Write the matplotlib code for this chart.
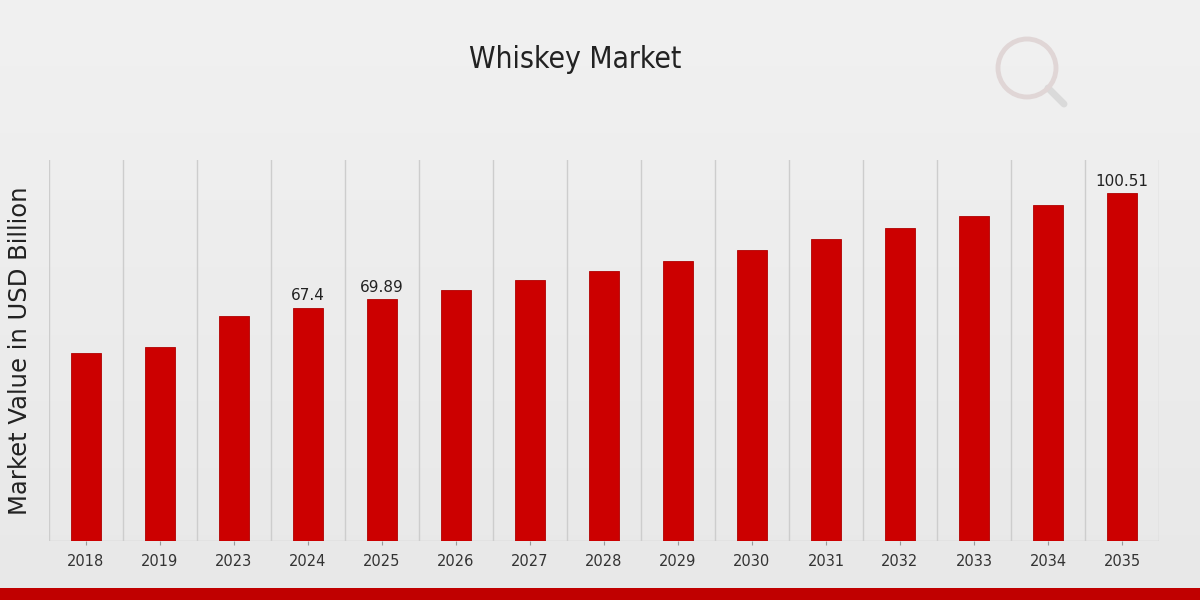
import matplotlib
matplotlib.use("Agg")
import matplotlib.pyplot as plt
import numpy as np
from matplotlib.patches import Rectangle, Ellipse
from matplotlib.lines import Line2D

years = ["2018", "2019", "2023", "2024", "2025", "2026", "2027", "2028",
         "2029", "2030", "2031", "2032", "2033", "2034", "2035"]
values = [54.3, 56.0, 65.0, 67.4, 69.89, 72.5, 75.4, 78.0, 80.9, 84.0,
          87.2, 90.4, 93.9, 97.1, 100.51]
labeled = {"2024": "67.4", "2025": "69.89", "2035": "100.51"}

fig = plt.figure(figsize=(12, 6), dpi=100)
fig.patch.set_facecolor("#ebebeb")

# subtle background gradient
bg = fig.add_axes([0, 0, 1, 1], zorder=-10)
grad = np.linspace(0.945, 0.91, 256).reshape(-1, 1)
bg.imshow(np.dstack([grad, grad, grad]), aspect="auto", extent=[0, 1, 0, 1])
bg.set_axis_off()

ax = fig.add_axes([49/1200, 1 - 541/600, 1110/1200, 381/600])
ax.set_facecolor("none")
x = np.arange(len(years))
ax.bar(x, values, width=0.4, color="#cc0000", edgecolor="#b00000", linewidth=0.6, zorder=3)
ax.set_xlim(-0.5, len(years) - 0.5)
ax.set_ylim(0, 110)
for b in np.arange(-0.5, len(years), 1.0):
    ax.axvline(b, color="#cdcdcd", linewidth=1.0, zorder=1)
ax.axhline(0, color="#cdcdcd", linewidth=1.0, zorder=1)
for xi, yr, v in zip(x, years, values):
    if yr in labeled:
        ax.text(xi, v + 1.2, labeled[yr], ha="center", va="bottom",
                fontsize=11, color="#222222", zorder=4)
ax.set_xticks(x)
ax.set_xticklabels(years, fontsize=10.5, color="#333333")
ax.set_yticks([])
ax.tick_params(axis="x", length=3, color="#999999", pad=6)
for s in ax.spines.values():
    s.set_visible(False)
ax.set_ylabel("Market Value in USD Billion", fontsize=17.5, color="#222222", labelpad=12)

fig.text(0.479, 0.9, "Whiskey Market", ha="center", va="center", fontsize=21.5,
         color="#222222", fontstretch="condensed")

# bottom red strip
fig.patches.append(Rectangle((0, 0), 1, 12/600, transform=fig.transFigure,
                             facecolor="#c00000", edgecolor="none", zorder=5))

# faint watermark logo
fig.patches.append(Ellipse((1027/1200, 1 - 68/600), 58/1200, 58/600, transform=fig.transFigure,
                           facecolor="none", edgecolor="#e0d6d6", linewidth=3.5, zorder=0))
fig.lines.append(Line2D([1048/1200, 1064/1200], [1 - 88/600, 1 - 104/600],
                        transform=fig.transFigure, color="#dadada", linewidth=5,
                        solid_capstyle="round", zorder=0))

fig.savefig("out.png", dpi=100, facecolor=fig.get_facecolor())
